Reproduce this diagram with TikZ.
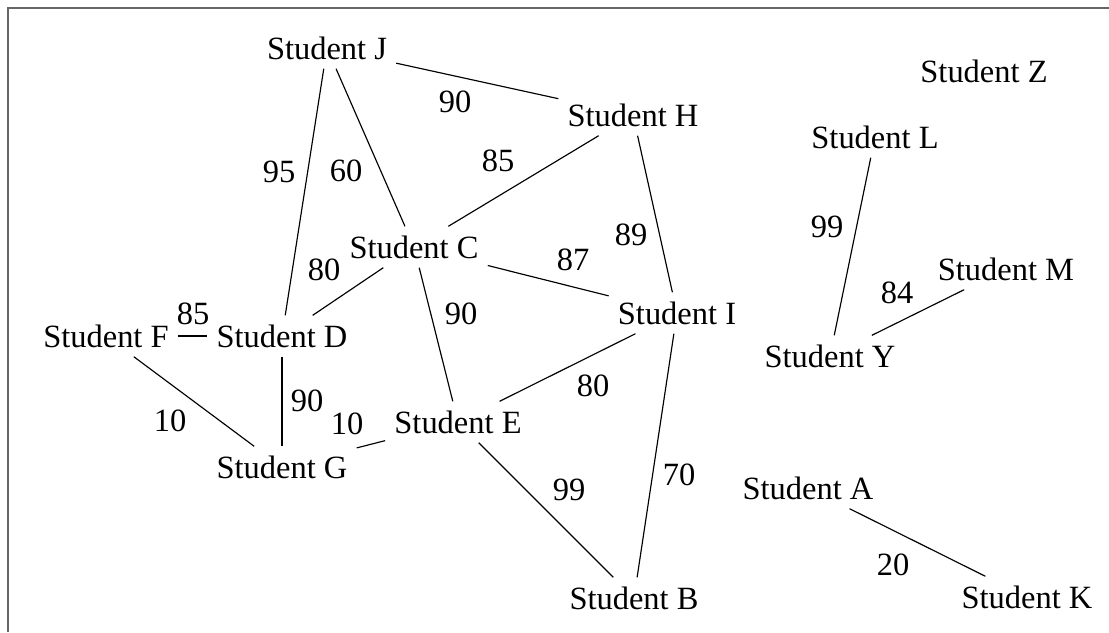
\documentclass[tikz,border=0pt]{standalone}
\usepackage{fontspec}
\setmainfont{Liberation Serif}
\begin{document}
\begin{tikzpicture}[x=0.345pt, y=-0.345pt,
  every node/.style={font=\fontsize{11.2}{13}\selectfont},
  student/.style={inner sep=3pt},
  weight/.style={inner sep=1pt},
  link/.style={draw=black, line width=0.4pt},
  frameline/.style={draw=black!60, line width=0.5pt}]
  \useasboundingbox (0,0) rectangle (1109,632);
  % partial frame along the top and left edges
  \coordinate (fa) at (8,632);
  \coordinate (fb) at (8,8);
  \coordinate (fc) at (1109,8);
  \draw[frameline] (fa) -- (fb) -- (fc);

  % students
  \node[student] (J) at (327,48) {Student J};
  \node[student] (H) at (633,115) {Student H};
  \node[student] (Z) at (984,71) {Student Z};
  \node[student] (L) at (875,137) {Student L};
  \node[student] (C) at (414,247) {Student C};
  \node[student] (I) at (677,313) {Student I};
  \node[student] (M) at (1006,269) {Student M};
  \node[student] (F) at (106,336) {Student F};
  \node[student] (D) at (282,336) {Student D};
  \node[student] (Y) at (830,356) {Student Y};
  \node[student] (E) at (458,422) {Student E};
  \node[student] (G) at (282,467) {Student G};
  \node[student] (A) at (808,488) {Student A};
  \node[student] (B) at (634,598) {Student B};
  \node[student] (K) at (1027,597) {Student K};

  % friendships
  \draw[link] (J) -- (H);
  \draw[link] (J) -- (D);
  \draw[link] (J) -- (C);
  \draw[link] (H) -- (C);
  \draw[link] (H) -- (I);
  \draw[link] (C) -- (I);
  \draw[link] (C) -- (D);
  \draw[link] (C) -- (E);
  \draw[link] (F) -- (D);
  \draw[link] (F) -- (G);
  \draw[link] (D) -- (G);
  \draw[link] (G) -- (E);
  \draw[link] (E) -- (I);
  \draw[link] (E) -- (B);
  \draw[link] (I) -- (B);
  \draw[link] (L) -- (Y);
  \draw[link] (Y) -- (M);
  \draw[link] (A) -- (K);

  % weights
  \node[weight] (wJH) at (455,102) {90};
  \node[weight] (wCH) at (498,161) {85};
  \node[weight] (wJD) at (279,172) {95};
  \node[weight] (wJC) at (346,171) {60};
  \node[weight] (wHI) at (631,235) {89};
  \node[weight] (wCI) at (573,260) {87};
  \node[weight] (wCD) at (324,270) {80};
  \node[weight] (wLY) at (827,227) {99};
  \node[weight] (wYM) at (897,293) {84};
  \node[weight] (wFD) at (193,314) {85};
  \node[weight] (wCE) at (461,314) {90};
  \node[weight] (wEI) at (593,386) {80};
  \node[weight] (wDG) at (307,401) {90};
  \node[weight] (wFG) at (170,421) {10};
  \node[weight] (wGE) at (347,424) {10};
  \node[weight] (wEB) at (569,490) {99};
  \node[weight] (wIB) at (679,475) {70};
  \node[weight] (wAK) at (893,565) {20};
\end{tikzpicture}
\end{document}
